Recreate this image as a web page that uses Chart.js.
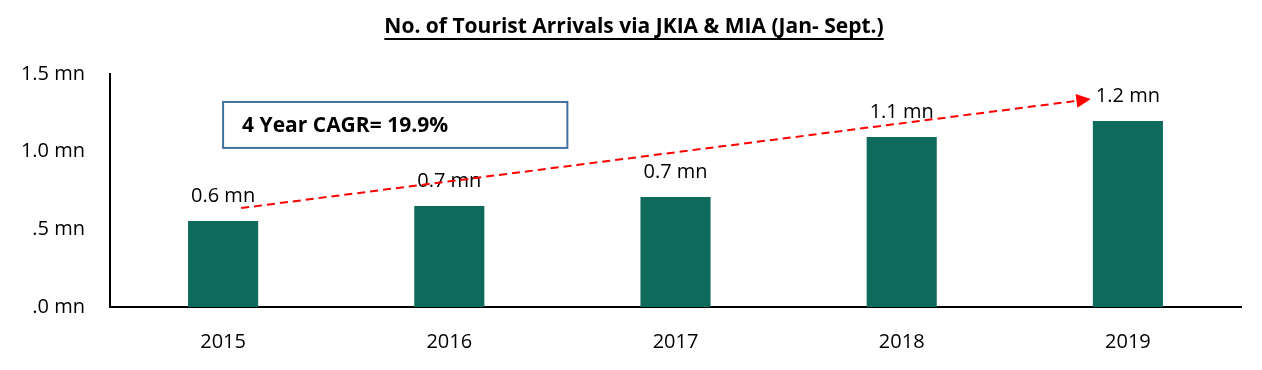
<!DOCTYPE html>
<html>
<head>
<meta charset="utf-8">
<script src="https://cdn.jsdelivr.net/npm/chart.js@4/dist/chart.umd.min.js"></script>
<style>
  html, body { margin: 0; padding: 0; background: #fff; }
  #wrap { width: 1262px; height: 370px; }
</style>
</head>
<body>
<div id="wrap"><canvas id="arrivals"></canvas></div>
<script>
// chart data
const years = ['2015', '2016', '2017', '2018', '2019'];
const arrivals = [0.554, 0.651, 0.708, 1.095, 1.198]; // millions
const yTicks = [0, 0.5, 1.0, 1.5];

const chartTitle = 'No. of Tourist Arrivals via JKIA & MIA (Jan- Sept.)';
const cagrText = '4 Year CAGR= 19.9%';
// trend arrow, in category index / value units
const trendStart = [0.08, 0.637];
const trendEnd = [3.836, 1.339];
// cagr box, in category index / value units
const boxFrom = [0.0, 1.32];
const boxTo = [1.522, 1.024];

const fontName = '"Open Sans", Lato, sans-serif';
const fontSize = 20;

// format values like "0.6 mn" / ".5 mn"
function tickLabel(v) {
  let s = v.toFixed(1);
  if (s.startsWith('0')) s = s.slice(1);
  return s + ' mn';
}

// draws title, value labels, cagr box and trend arrow
const extras = {
  id: 'extras',
  afterDatasetsDraw(chart) {
    const ctx = chart.ctx;
    const x = chart.scales.x;
    const y = chart.scales.y;

    // title with underline
    ctx.save();
    ctx.font = 'bold 21px ' + fontName;
    ctx.fillStyle = '#000';
    ctx.textAlign = 'center';
    ctx.textBaseline = 'middle';
    ctx.fillText(chartTitle, 634, 27);
    let w = ctx.measureText(chartTitle).width;
    ctx.fillRect(634 - w / 2, 38, w, 2);
    ctx.restore();

    // value labels above bars
    const meta = chart.getDatasetMeta(0);
    ctx.save();
    ctx.font = fontSize + 'px ' + fontName;
    ctx.fillStyle = '#000';
    ctx.textAlign = 'center';
    ctx.textBaseline = 'middle';
    meta.data.forEach((bar, i) => {
      ctx.fillText(arrivals[i].toFixed(1) + ' mn', bar.x, bar.y - 25);
    });
    ctx.restore();

    // cagr box
    let bx1 = x.getPixelForValue(boxFrom[0]);
    let by1 = y.getPixelForValue(boxFrom[1]);
    let bx2 = x.getPixelForValue(boxTo[0]);
    let by2 = y.getPixelForValue(boxTo[1]);
    ctx.save();
    ctx.strokeStyle = '#41719C';
    ctx.lineWidth = 2;
    ctx.strokeRect(bx1, by1, bx2 - bx1, by2 - by1);
    ctx.font = 'bold 21px ' + fontName;
    ctx.fillStyle = '#000';
    ctx.textBaseline = 'middle';
    ctx.fillText(cagrText, bx1 + 19, (by1 + by2) / 2 + 1);
    ctx.restore();

    // dashed trend arrow
    let x1 = x.getPixelForValue(trendStart[0]);
    let y1 = y.getPixelForValue(trendStart[1]);
    let x2 = x.getPixelForValue(trendEnd[0]);
    let y2 = y.getPixelForValue(trendEnd[1]);
    let ang = Math.atan2(y2 - y1, x2 - x1);
    let headLen = 16;
    ctx.save();
    ctx.strokeStyle = '#FF0000';
    ctx.fillStyle = '#FF0000';
    ctx.lineWidth = 2;
    ctx.setLineDash([8, 5]);
    ctx.beginPath();
    ctx.moveTo(x1, y1);
    ctx.lineTo(x2 - headLen * Math.cos(ang), y2 - headLen * Math.sin(ang));
    ctx.stroke();
    ctx.setLineDash([]);
    ctx.beginPath();
    ctx.moveTo(x2, y2);
    ctx.lineTo(x2 - headLen * Math.cos(ang - 0.45), y2 - headLen * Math.sin(ang - 0.45));
    ctx.lineTo(x2 - headLen * Math.cos(ang + 0.45), y2 - headLen * Math.sin(ang + 0.45));
    ctx.closePath();
    ctx.fill();
    ctx.restore();
  }
};

let c = document.getElementById('arrivals');
let context = c.getContext('2d');

let chart = new Chart(context, {
  type: 'bar',
  data: {
    labels: years,
    datasets: [
      {
        label: 'Tourist arrivals',
        data: arrivals,
        backgroundColor: '#0E6B5C',
        categoryPercentage: 1.0,
        barPercentage: 0.31
      }
    ]
  },
  options: {
    responsive: true,
    maintainAspectRatio: false,
    animation: false,
    layout: {
      padding: { top: 74, right: 21, left: 0, bottom: 0 }
    },
    plugins: {
      legend: { display: false },
      title: { display: false },
      tooltip: { enabled: false }
    },
    scales: {
      x: {
        grid: { display: false, drawTicks: false },
        border: { display: true, color: '#000', width: 2 },
        ticks: {
          color: '#000',
          font: { family: fontName, size: fontSize },
          padding: 23
        },
        afterFit(scale) { scale.height = 63; }
      },
      y: {
        min: 0,
        max: 1.5,
        afterBuildTicks(scale) {
          scale.ticks = yTicks.map(v => ({ value: v }));
        },
        grid: { display: false, drawTicks: false },
        border: { display: true, color: '#000', width: 2 },
        ticks: {
          color: '#000',
          font: { family: fontName, size: fontSize },
          padding: 25,
          callback: v => tickLabel(v)
        },
        afterFit(scale) { scale.width = 110; }
      }
    }
  },
  plugins: [extras]
});
</script>
</body>
</html>
